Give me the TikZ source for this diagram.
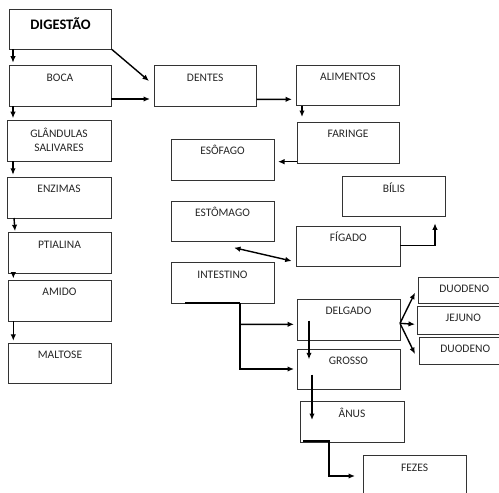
\documentclass[tikz,border=0pt]{standalone}
\usepackage{fontspec}
\setmainfont{Carlito}
\usetikzlibrary{arrows.meta}
\tikzset{
  box/.style={draw=black!80, line width=0.8pt, anchor=north west, inner sep=0pt, outer sep=0pt},
  lbl/.style={anchor=base, yshift=-15.5pt, inner sep=0pt, text=black!85, font=\fontsize{11.5}{14.4}\selectfont, align=center},
  arr/.style={line width=1.4pt, -{Latex[length=6.5pt,width=5.5pt]}},
  darr/.style={line width=1.4pt, {Latex[length=6.5pt,width=5.5pt]}-{Latex[length=6.5pt,width=5.5pt]}},
  seg/.style={line width=1.4pt}
}
\newcommand{\bx}[6]{\node[box, minimum width=#4pt, minimum height=#5pt, label={[lbl]north:#6}] (#1) at (#2,#3) {};}
\begin{document}
\begin{tikzpicture}[x=1pt,y=-1pt]
\clip (0,0) rectangle (499,493);
\useasboundingbox (0,0) rectangle (499,493);
% left column
\node[box, minimum width=102.4pt, minimum height=40pt, label={[lbl, yshift=-4.5pt, font=\bfseries\fontsize{14.5}{16}\selectfont, text=black]north:DIGESTÃO}] (dig) at (9.3,9.3) {};
\node[box, minimum width=104pt, minimum height=40.3pt, label={[lbl, yshift=-15.5pt]north:GLÂNDULAS\\SALIVARES}] (glan) at (7,120.7) {};
\bx{boca}{9}{65.7}{102}{40.3}{BOCA}
\bx{enz}{7}{177.3}{104}{40.7}{ENZIMAS}
\bx{pti}{8}{232.7}{103}{40.3}{PTIALINA}
\bx{amido}{8}{280}{103}{41}{AMIDO}
\bx{malt}{8.3}{343.3}{103.4}{40}{MALTOSE}
% middle
\bx{dentes}{154}{65.7}{102.5}{40.3}{DENTES}
\bx{eso}{171}{139.3}{103}{40.7}{ESÔFAGO}
\bx{est}{171}{201}{103}{40.7}{ESTÔMAGO}
\bx{int}{171}{262.7}{103}{40.3}{INTESTINO}
% right
\bx{alim}{296.7}{65.3}{102.3}{40.4}{ALIMENTOS}
\bx{far}{297}{122.3}{102}{40.7}{FARINGE}
\bx{bilis}{342.7}{176.7}{102.3}{40}{BÍLIS}
\bx{fig}{296.7}{226}{103.3}{40}{FÍGADO}
\bx{delg}{297}{299.3}{103}{40.7}{DELGADO}
\bx{gros}{297}{349}{103}{40.3}{GROSSO}
\bx{anus}{300}{401.7}{104}{40.3}{ÂNUS}
\bx{fez}{363.3}{455.7}{102.7}{45}{FEZES}
\bx{duo1}{418.3}{277.3}{92}{26}{DUODENO}
\bx{jej}{417.3}{306.3}{92}{28}{JEJUNO}
\bx{duo2}{419.3}{337.3}{92}{26.7}{DUODENO}
% left column arrows
\draw[arr] ([xshift=3.7pt]dig.south west) -- ([xshift=4pt,yshift=3pt]boca.north west);
\draw[arr] ([xshift=4pt]boca.south west) -- ([xshift=6pt,yshift=2.5pt]glan.north west);
\draw[arr] ([xshift=6pt]glan.south west) -- ([xshift=6pt,yshift=2.5pt]enz.north west);
\draw[arr] ([xshift=7pt]enz.south west) -- ([xshift=7pt,yshift=1.5pt]pti.north west);
\draw[arr] ([xshift=5.3pt]pti.south west) -- ([xshift=5.3pt,yshift=1.5pt]amido.north west);
\draw[arr] ([xshift=5.3pt]amido.south west) -- ([xshift=5pt,yshift=2.5pt]malt.north west);
% top arrows
\draw[arr] (dig.south east) -- ([xshift=-5pt,yshift=-15.3pt]dentes.north west);
\draw[arr] ([yshift=7pt]boca.south east) -- ([xshift=-4pt,yshift=7pt]dentes.south west);
\draw[arr] ([yshift=6.7pt]dentes.south east) -- ([xshift=-4.7pt,yshift=6.4pt]alim.south west);
\draw[arr] ([xshift=5.3pt]alim.south west) -- ([xshift=5pt,yshift=5.3pt]far.north west);
\draw[arr] ([yshift=1.3pt]far.south west) -- ([xshift=4pt,yshift=18.3pt]eso.south east);
% liver to bile
\draw[arr] ([yshift=20.3pt]fig.south east) -| ([xshift=-10pt,yshift=-6.6pt]bilis.south east);
% stomach <-> liver
\draw[darr] ([xshift=63pt,yshift=-6pt]est.south west) -- ([xshift=-5pt,yshift=5pt]fig.south west);
% intestine branches
\draw[seg] ([xshift=14pt]int.south west) -- ([xshift=69pt]int.south west);
\draw[arr] ([xshift=69pt]int.south west) |- ([xshift=-3pt,yshift=-20pt]gros.north west);
\draw[arr] ([xshift=69pt,yshift=-21.3pt]int.south west) -- ([xshift=-3pt,yshift=-25pt]delg.north west);
% delgado -> grosso, grosso -> anus, anus -> fezes
\draw[arr] ([xshift=12pt,yshift=19.3pt]delg.south west) -- ([xshift=12pt,yshift=-10.3pt]gros.north west);
\draw[arr] ([xshift=15pt,yshift=14.6pt]gros.south west) -- ([xshift=12pt,yshift=-18.3pt]anus.north west);
\draw[arr] ([xshift=3pt,yshift=1pt]anus.south west) -| ([xshift=-34.3pt,yshift=-20.3pt]fez.north west) -- ([xshift=-8.3pt,yshift=-20.3pt]fez.north west);
% delgado -> duodeno/jejuno/duodeno
\draw[arr] ([yshift=-24pt]delg.north east) -- ([xshift=-3.3pt,yshift=-15.4pt]duo1.north west);
\draw[arr] ([yshift=-24pt]delg.north east) -- ([xshift=-2.3pt,yshift=-18pt]jej.north west);
\draw[arr] ([yshift=-24pt]delg.north east) -- ([xshift=-4.3pt,yshift=-16.7pt]duo2.north west);
\end{tikzpicture}
\end{document}
